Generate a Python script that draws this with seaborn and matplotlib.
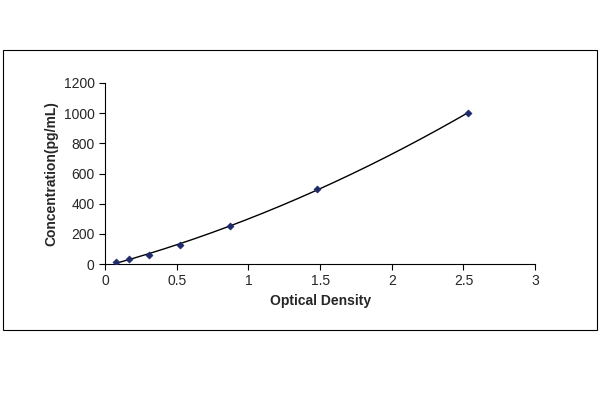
import matplotlib
matplotlib.use("Agg")
import matplotlib.pyplot as plt
import seaborn as sns
import numpy as np
import pandas as pd
from matplotlib.patches import Rectangle

od = [0.08, 0.17, 0.31, 0.52, 0.87, 1.48, 2.53]
conc = [15.6, 31.2, 62.5, 125, 250, 500, 1000]
xticks = [0, 0.5, 1, 1.5, 2, 2.5, 3]
yticks = [0, 200, 400, 600, 800, 1000, 1200]

sns.set_style("white")
plt.rcParams['font.family'] = ['Liberation Sans', 'DejaVu Sans']
fig = plt.figure(figsize=(6, 4), dpi=100)
fig.patches.append(Rectangle((0.005, 0.175), 0.99, 0.70, transform=fig.transFigure,
                             fill=False, edgecolor='black', lw=0.8))
ax = fig.add_axes([0.175, 0.34, 0.717, 0.4525])
df = pd.DataFrame({"od": od, "conc": conc})
c = np.polyfit(od, conc, 2)
xs = np.linspace(min(od), max(od), 200)
ax.plot(xs, np.polyval(c, xs), color='black', lw=1)
sns.scatterplot(data=df, x="od", y="conc", ax=ax, marker='D', s=14, color='#1F2A6B',
                edgecolor='#1F2A6B', zorder=3)
ax.set_xlim(0, 3); ax.set_ylim(0, 1200)
ax.set_xticks(xticks); ax.set_yticks(yticks)
ax.set_xticklabels([f"{t:g}" for t in xticks], fontsize=10)
ax.set_yticklabels([str(t) for t in yticks], fontsize=10)
ax.set_xlabel("Optical Density", fontsize=10, fontweight='bold')
ax.set_ylabel("Concentration(pg/mL)", fontsize=10, fontweight='bold')
for s in ['top', 'right']:
    ax.spines[s].set_visible(False)
for s in ['left', 'bottom']:
    ax.spines[s].set_color('black'); ax.spines[s].set_linewidth(0.8)
ax.tick_params(direction='out', length=4, width=0.8, color='black', left=True, bottom=True)
fig.savefig("out.png", dpi=100)
